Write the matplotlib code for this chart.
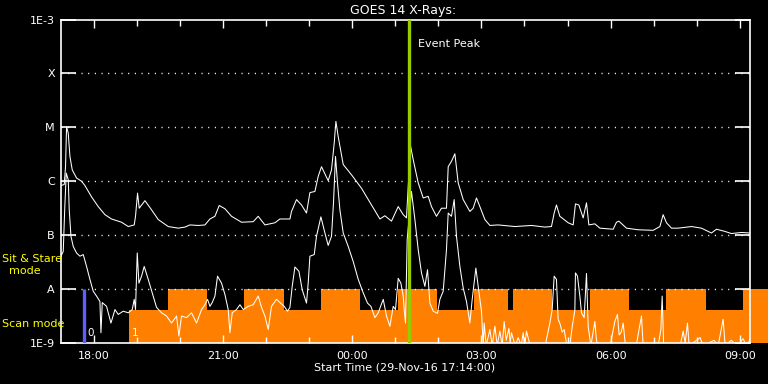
import matplotlib
matplotlib.use("Agg")
import matplotlib.pyplot as plt
from matplotlib.ticker import FixedLocator, FuncFormatter

# times are hours of 29-Nov (values > 24 are on 30-Nov), fluxes are log10(W/m^2)
long_t = [17.244, 17.320, 17.350, 17.374, 17.413, 17.452, 17.506, 17.606, 17.722, 17.800,
          17.954, 18.109, 18.265, 18.418, 18.650, 18.805, 18.944, 18.974, 19.021, 19.060,
          19.193, 19.346, 19.501, 19.733, 19.965, 20.121, 20.237, 20.429, 20.585, 20.701,
          20.817, 20.916, 21.049, 21.202, 21.434, 21.705, 21.821, 21.977, 22.209, 22.325,
          22.557, 22.594, 22.710, 22.826, 22.942, 23.021, 23.137, 23.213, 23.290, 23.445,
          23.522, 23.585, 23.624, 23.677, 23.794, 23.986, 24.218, 24.450, 24.645, 24.761,
          24.914, 25.070, 25.186, 25.262, 25.302, 25.355, 25.418, 25.534, 25.650, 25.766,
          25.842, 25.958, 26.074, 26.190, 26.230, 26.306, 26.385, 26.462, 26.578, 26.733,
          26.810, 26.886, 26.965, 27.081, 27.197, 27.390, 27.777, 28.162, 28.473, 28.626,
          28.689, 28.742, 28.821, 29.014, 29.130, 29.183, 29.262, 29.362, 29.439, 29.494,
          29.633, 29.749, 30.058, 30.135, 30.190, 30.367, 30.638, 30.986, 31.142, 31.218,
          31.295, 31.411, 31.566, 31.875, 32.107, 32.339, 32.455, 32.650, 32.803, 33.035,
          33.230]
long_v = [-6.08, -6.06, -5.73, -4.99, -5.11, -5.54, -5.79, -5.94, -6.00, -6.08,
          -6.29, -6.47, -6.62, -6.70, -6.76, -6.84, -6.81, -6.65, -6.22, -6.50,
          -6.36, -6.53, -6.71, -6.84, -6.87, -6.85, -6.81, -6.82, -6.81, -6.70,
          -6.65, -6.45, -6.51, -6.65, -6.76, -6.75, -6.65, -6.81, -6.77, -6.70,
          -6.70, -6.56, -6.34, -6.44, -6.59, -6.21, -6.19, -5.91, -5.73, -5.99,
          -5.79, -5.29, -4.89, -5.17, -5.69, -5.88, -6.13, -6.44, -6.70, -6.64,
          -6.74, -6.47, -6.62, -6.68, -6.10, -5.34, -5.60, -6.03, -6.31, -6.28,
          -6.47, -6.65, -6.50, -6.50, -5.73, -5.63, -5.49, -6.03, -6.34, -6.56,
          -6.50, -6.31, -6.47, -6.71, -6.82, -6.81, -6.84, -6.82, -6.85, -6.84,
          -6.59, -6.44, -6.65, -6.77, -6.81, -6.42, -6.44, -6.68, -6.40, -6.81,
          -6.79, -6.87, -6.89, -6.76, -6.74, -6.87, -6.90, -6.91, -6.84, -6.62,
          -6.77, -6.87, -6.87, -6.84, -6.87, -6.96, -6.89, -6.93, -6.97, -6.95,
          -6.96]

short_t = [17.239, 17.297, 17.332, 17.367, 17.413, 17.436, 17.476, 17.529, 17.606, 17.684,
           17.761, 17.838, 17.916, 17.993, 18.070, 18.148, 18.172, 18.202, 18.302, 18.404,
           18.497, 18.573, 18.689, 18.805, 18.898, 18.944, 18.974, 19.014, 19.053, 19.114,
           19.176, 19.269, 19.385, 19.462, 19.578, 19.694, 19.810, 19.926, 19.981, 20.042,
           20.158, 20.274, 20.390, 20.506, 20.585, 20.645, 20.701, 20.754, 20.817, 20.877,
           20.970, 21.049, 21.125, 21.165, 21.218, 21.318, 21.397, 21.473, 21.589, 21.705,
           21.821, 21.898, 21.977, 22.053, 22.130, 22.246, 22.325, 22.425, 22.501, 22.557,
           22.610, 22.673, 22.766, 22.842, 22.942, 22.981, 23.021, 23.121, 23.174, 23.276,
           23.369, 23.445, 23.522, 23.568, 23.615, 23.661, 23.717, 23.794, 23.910, 24.026,
           24.142, 24.258, 24.357, 24.436, 24.529, 24.606, 24.722, 24.798, 24.877, 24.954,
           25.007, 25.070, 25.132, 25.186, 25.209, 25.239, 25.278, 25.378, 25.457, 25.534,
           25.610, 25.689, 25.750, 25.805, 25.882, 25.981, 26.037, 26.114, 26.190, 26.230,
           26.306, 26.369, 26.422, 26.501, 26.578, 26.654, 26.733, 26.787, 26.872, 26.926,
           27.002, 27.042, 27.065, 27.111, 27.197, 27.251, 27.313, 27.367, 27.429, 27.483,
           27.529, 27.576, 27.638, 27.668, 27.698, 27.784, 27.854, 27.923, 27.970, 28.005,
           28.046, 28.132, 28.480, 28.589, 28.643, 28.689, 28.742, 28.781, 28.828, 28.874,
           28.921, 28.974, 29.053, 29.107, 29.169, 29.183, 29.230, 29.285, 29.323, 29.385,
           29.439, 29.478, 29.541, 29.633, 29.664, 29.694, 29.896, 29.988, 30.097, 30.157,
           30.197, 30.244, 30.290, 30.343, 30.592, 30.715, 30.754, 31.102, 31.165, 31.195,
           31.230, 31.613, 31.683, 31.729, 31.782, 31.821, 32.076, 32.146, 32.401, 32.494,
           32.610, 32.657, 32.796, 32.935, 33.074, 33.144, 33.230]
short_v = [-7.40, -7.30, -6.50, -5.85, -5.97, -6.53, -7.02, -7.21, -7.33, -7.39,
           -7.36, -7.58, -7.82, -8.04, -8.13, -8.23, -8.81, -8.25, -8.32, -8.63,
           -8.38, -8.47, -8.41, -8.44, -8.38, -8.19, -8.38, -7.33, -7.89, -7.76,
           -7.58, -7.82, -8.13, -8.34, -8.44, -8.50, -8.63, -8.50, -8.87, -8.50,
           -8.53, -8.44, -8.63, -8.38, -8.29, -8.19, -8.32, -8.25, -8.13, -7.76,
           -7.89, -8.10, -8.38, -8.81, -8.44, -8.38, -8.29, -8.38, -8.32, -8.29,
           -8.13, -8.34, -8.50, -8.75, -8.32, -8.19, -8.25, -8.32, -8.41, -8.34,
           -7.95, -7.59, -7.67, -8.01, -8.26, -7.89, -7.39, -7.36, -7.02, -6.66,
           -6.96, -7.19, -7.02, -6.40, -5.54, -6.03, -6.53, -6.96, -7.21, -7.49,
           -7.82, -8.07, -8.26, -8.32, -8.53, -8.44, -8.19, -8.50, -8.69, -8.32,
           -8.38, -7.80, -7.89, -8.13, -8.38, -8.63, -7.08, -6.19, -6.71, -7.27,
           -7.70, -7.95, -7.64, -8.26, -8.41, -8.45, -8.19, -8.04, -7.27, -6.59,
           -6.65, -6.34, -7.02, -7.58, -7.98, -8.23, -8.63, -8.19, -7.61, -7.95,
           -8.41, -9.05, -8.63, -9.05, -8.75, -9.05, -8.69, -9.05, -8.78, -9.05,
           -8.60, -8.95, -8.73, -9.00, -8.81, -9.05, -8.90, -9.05, -8.81, -9.05,
           -8.78, -9.05, -9.05, -8.63, -8.38, -7.76, -7.82, -8.56, -8.65, -8.80,
           -8.75, -9.00, -9.05, -8.70, -8.39, -7.70, -7.76, -8.13, -8.44, -8.53,
           -7.71, -8.69, -9.05, -8.60, -8.90, -9.05, -9.05, -9.05, -8.60, -8.47,
           -8.85, -8.80, -8.63, -9.05, -9.05, -8.50, -9.05, -9.05, -8.75, -8.13,
           -9.05, -9.05, -8.78, -9.00, -8.63, -9.05, -8.90, -9.05, -8.95, -9.05,
           -8.56, -9.05, -8.95, -9.05, -8.92, -9.05, -8.95]

# instrument mode: 0 = scan, 1 = sit & stare (value holds until next change)
mode_t = [18.828, 19.726, 20.631, 21.497, 22.425, 23.283, 24.188, 25.070, 25.974,
          26.833, 27.622, 27.738, 28.643, 29.524, 30.422, 31.281, 32.209, 33.067, 33.654]
mode_v = [0, 1, 0, 1, 0, 1, 0, 1, 0, 1, 0, 1, 0, 1, 0, 1, 0, 1, 1]
mode_top = [4.1e-9, 1e-8]

t_start = 17 + 14 / 60
t_end = t_start + 16
peak_t = 25.32
marker_t = 17.789

levels = [1e-9, 1e-8, 1e-7, 1e-6, 1e-5, 1e-4, 1e-3]
level_labels = ["1E-9", "A", "B", "C", "M", "X", "1E-3"]

fig = plt.figure(figsize=(7.68, 3.84), dpi=100, facecolor="black")
ax = fig.add_axes([60.5 / 768, 41 / 384, 689.5 / 768, 323.5 / 384], facecolor="black")
ax.set_yscale("log")
ax.set_ylim(1e-9, 1e-3)
ax.set_xlim(t_start, t_end)

orange = "#ff8000"
tops = [mode_top[m] for m in mode_v]
ax.fill_between(mode_t, 1e-9, tops, step="post", color=orange, lw=0, clip_on=False, zorder=1)

for lv in levels[1:-1]:
    ax.axhline(lv, color="white", lw=1.0, ls=(0, (0.8, 4.0)), zorder=2)

ax.plot(long_t, [10 ** v for v in long_v], color="white", lw=0.75, zorder=3)
ax.plot(short_t, [10 ** v for v in short_v], color="white", lw=0.75, zorder=3)

ax.vlines(marker_t, 1e-9, 1e-8, color="#5f5fff", lw=2.4, zorder=4)
ax.axvline(peak_t, color="#99cc00", lw=2.4, zorder=4)
ax.text(peak_t + 0.22, 10 ** -3.45, "Event Peak", color="white", fontsize=8, va="center")
ax.text(marker_t + 0.06, 10 ** -8.82, "0", color="white", fontsize=7.5, va="center")
ax.text(mode_t[0] + 0.06, 10 ** -8.82, "1", color="white", fontsize=7.5, va="center")

ax.set_yticks(levels)
ax.set_yticklabels(level_labels)
ax.yaxis.set_minor_locator(FixedLocator([]))
ax.tick_params(axis="y", which="major", direction="in", length=11, width=1.2,
               colors="white", labelsize=8, left=True, right=True, pad=4)

ax.set_xticks([18, 21, 24, 27, 30, 33])
ax.xaxis.set_minor_locator(FixedLocator(range(18, 34)))
ax.xaxis.set_major_formatter(FuncFormatter(lambda h, p: f"{int(round(h)) % 24:02d}:00"))
ax.tick_params(axis="x", which="major", direction="in", length=6, width=1,
               colors="white", labelsize=8, top=True, bottom=True, pad=6)
ax.tick_params(axis="x", which="minor", direction="in", length=4, width=1,
               colors="white", top=True, bottom=True)

for s in ax.spines.values():
    s.set_color("white")
    s.set_linewidth(1.2)

fig.text(0.525, 0.973, "GOES 14 X-Rays:", color="white", fontsize=9, ha="center", va="center")
fig.text(0.527, 0.042, "Start Time (29-Nov-16 17:14:00)", color="white", fontsize=8,
         ha="center", va="center")
fig.text(0.003, 0.31, "Sit & Stare\n  mode", color="yellow", fontsize=8, ha="left",
         va="center", linespacing=1.15)
fig.text(0.003, 0.156, "Scan mode", color="yellow", fontsize=8, ha="left", va="center")

fig.savefig("out.png", dpi=100, facecolor="black")
